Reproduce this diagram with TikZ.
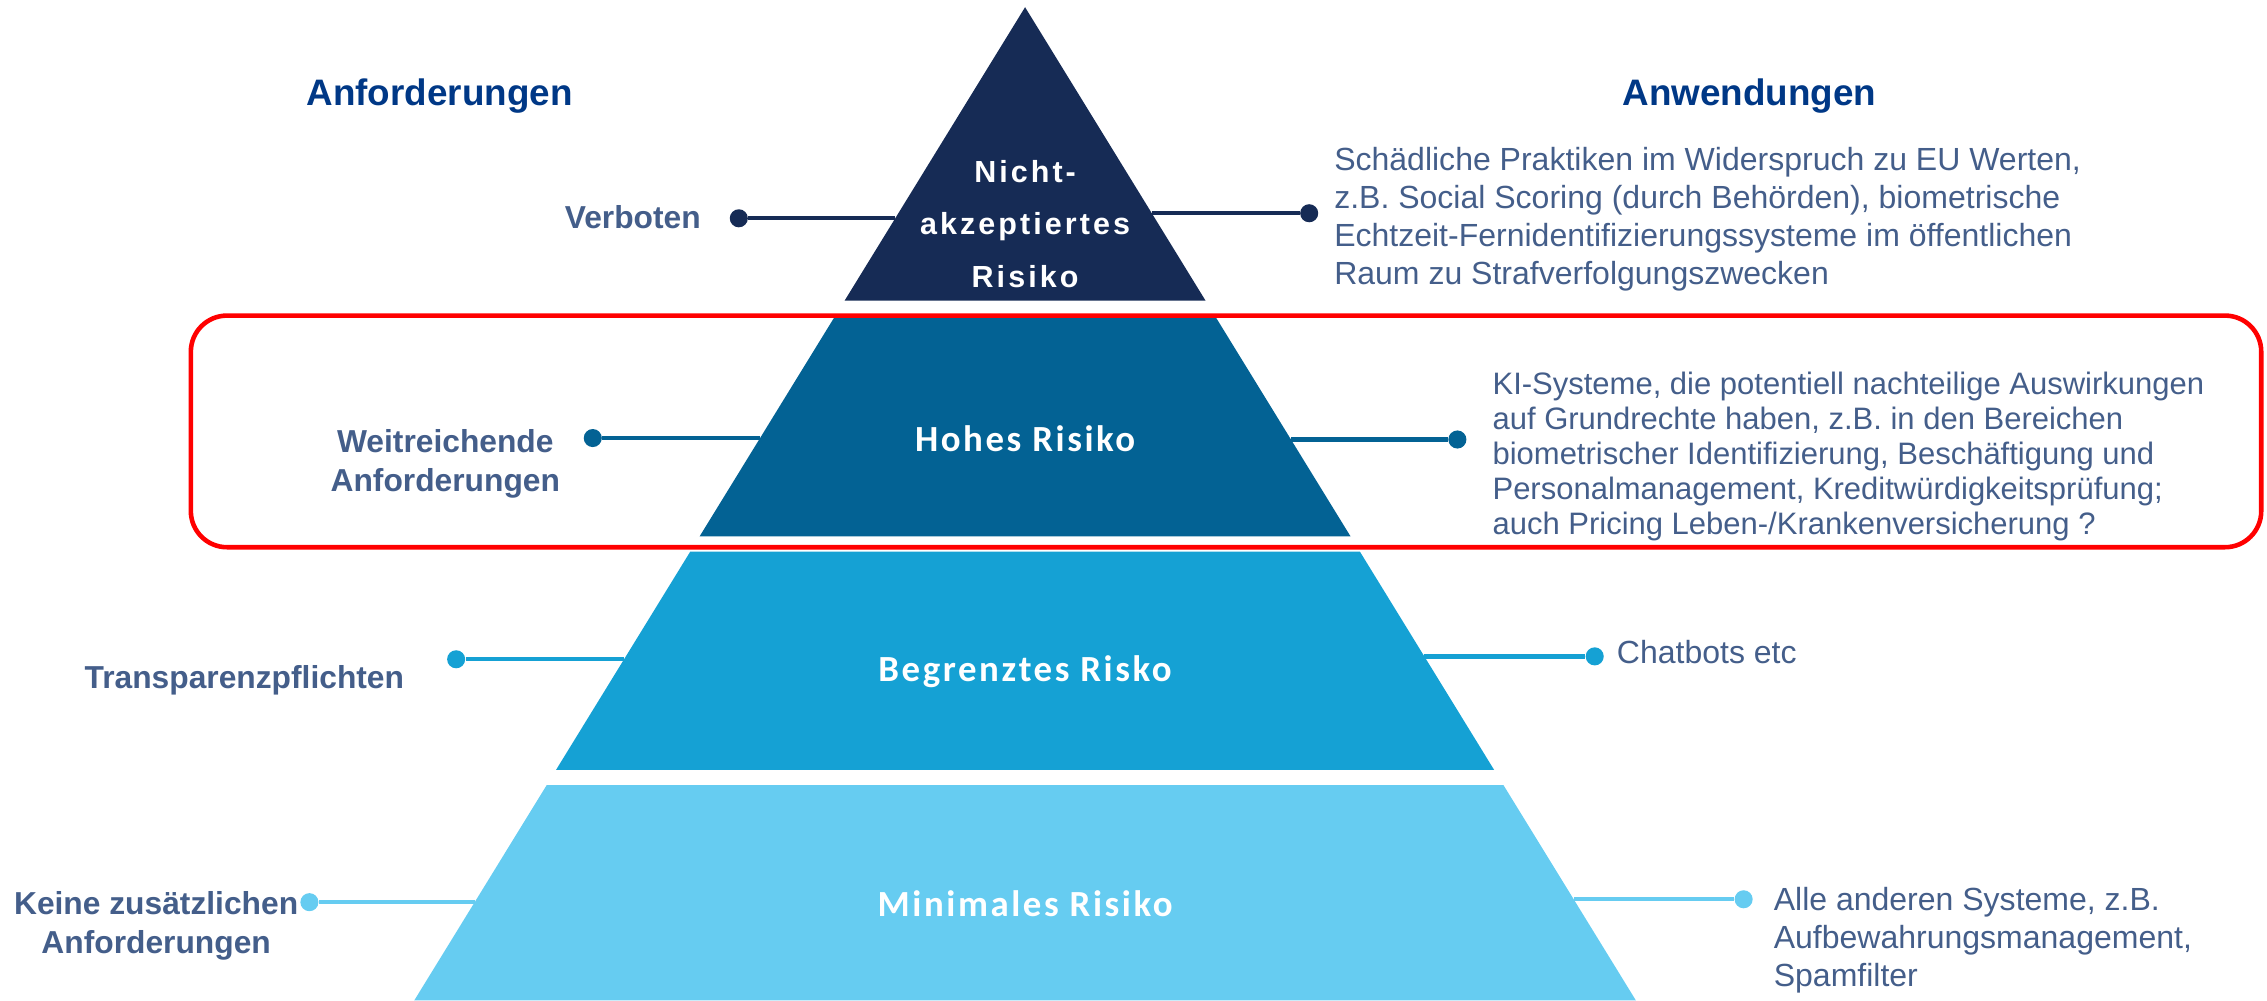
\documentclass[tikz,border=0pt]{standalone}
\usepackage{fontspec}
\setmainfont{Liberation Sans}
\newfontfamily\tierfont[LetterSpace=7]{Carlito}
\newfontfamily\topfont[LetterSpace=10]{Liberation Sans}
\usepackage{tikz}
\usetikzlibrary{positioning}

\definecolor{navy}{RGB}{22,43,85}
\definecolor{tiertwo}{RGB}{3,98,148}
\definecolor{tierthree}{RGB}{21,161,212}
\definecolor{tierfour}{RGB}{102,204,241}
\definecolor{headblue}{RGB}{0,56,134}
\definecolor{slate}{RGB}{68,94,138}

\begin{document}
\begin{tikzpicture}[
  tierlbl/.style={text=white, font=\tierfont\bfseries\fontsize{14.5pt}{17pt}\selectfont, anchor=base},
  head/.style={text=headblue, font=\bfseries\fontsize{14.5pt}{17pt}\selectfont, anchor=base},
  req/.style={text=slate, font=\bfseries\fontsize{12.5pt}{15.3pt}\selectfont, align=center, inner sep=0pt},
  app/.style={text=slate, font=\fontsize{12.6pt}{15pt}\selectfont, align=left, anchor=west, inner sep=0pt},
  endpt/.style={circle, fill=#1, inner sep=0pt, minimum size=0.25cm},
  con/.style={draw=#1, line width=1.7pt},
]
\useasboundingbox (0,0) rectangle (31.36,13.84);

% pyramid
\fill[navy] (14.18,13.74) -- (16.677,9.68) -- (11.683,9.68) -- cycle;
\fill[tiertwo] (11.535,9.44) -- (16.825,9.44) -- (18.682,6.42) -- (9.678,6.42) -- cycle;
\fill[tierthree] (9.549,6.21) -- (18.811,6.21) -- (20.668,3.19) -- (7.692,3.19) -- cycle;
\fill[tierfour] (7.563,2.98) -- (20.797,2.98) -- (22.63,0) -- (5.73,0) -- cycle;

\node[text=white, font=\topfont\bfseries\fontsize{12pt}{20.5pt}\selectfont, align=center, inner sep=0pt]
  (t1) at (14.18,10.74) {Nicht-\\akzeptiertes\\Risiko};
\node[tierlbl] (t2) at (14.18,7.59) {Hohes Risiko};
\node[tierlbl] (t3) at (14.18,4.41) {Begrenztes Risko};
\node[tierlbl] (t4) at (14.18,1.16) {Minimales Risiko};

% headings
\node[head] (req) at (6.08,12.38) {Anforderungen};
\node[head] (use) at (24.2,12.38) {Anwendungen};

% edge points
\coordinate (e1l) at (12.38,10.82);
\coordinate (e1r) at (15.93,10.89);
\coordinate (e2l) at (10.515,7.78);
\coordinate (e2r) at (17.86,7.76);
\coordinate (e3l) at (8.633,4.72);
\coordinate (e3r) at (19.70,4.76);
\coordinate (e4l) at (6.566,1.36);
\coordinate (e4r) at (21.77,1.40);

% end points
\node[endpt=navy] (d1l) at (10.22,10.82) {};
\node[endpt=navy] (d1r) at (18.11,10.89) {};
\node[endpt=tiertwo] (d2l) at (8.20,7.78) {};
\node[endpt=tiertwo] (d2r) at (20.16,7.76) {};
\node[endpt=tierthree] (d3l) at (6.31,4.72) {};
\node[endpt=tierthree] (d3r) at (22.06,4.76) {};
\node[endpt=tierfour] (d4l) at (4.28,1.36) {};
\node[endpt=tierfour] (d4r) at (24.12,1.40) {};

\draw[con=navy] (d1l) -- (e1l);
\draw[con=navy] (e1r) -- (d1r);
\draw[con=tiertwo] (d2l) -- (e2l);
\draw[con=tiertwo] (e2r) -- (d2r);
\draw[con=tierthree] (d3l) -- (e3l);
\draw[con=tierthree] (e3r) -- (d3r);
\draw[con=tierfour] (d4l) -- (e4l);
\draw[con=tierfour] (e4r) -- (d4r);

% requirements
\node[req, anchor=base east] (verb) at (9.70,10.68) {Verboten};
\node[req] (weit) at (6.16,7.42) {Weitreichende\\Anforderungen};
\node[req, anchor=base] (transp) at (3.38,4.32) {Transparenzpflichten};
\node[req] (keine) at (2.16,1.03) {Keine zusätzlichen\\Anforderungen};

% applications
\node[app] (a1) at (18.45,10.81) {Schädliche Praktiken im Widerspruch zu EU Werten,\\z.B. Social Scoring (durch Behörden), biometrische\\Echtzeit-Fernidentifizierungssysteme im öffentlichen\\Raum zu Strafverfolgungszwecken};
\node[app, font=\fontsize{12.2pt}{13.8pt}\selectfont] (a2) at (20.64,7.53) {KI-Systeme, die potentiell nachteilige Auswirkungen\\auf Grundrechte haben, z.B. in den Bereichen\\biometrischer Identifizierung, Beschäftigung und\\Personalmanagement, Kreditwürdigkeitsprüfung;\\auch Pricing Leben-/Krankenversicherung ?};
\node[app, anchor=base west] (a3) at (22.36,4.66) {Chatbots etc};
\node[app] (a4) at (24.53,0.835) {Alle anderen Systeme, z.B.\\Aufbewahrungsmanagement,\\Spamfilter};

% highlight
\draw[red, line width=1.8pt, rounded corners=0.5cm] (2.64,6.27) rectangle (31.28,9.474);
\end{tikzpicture}
\end{document}
